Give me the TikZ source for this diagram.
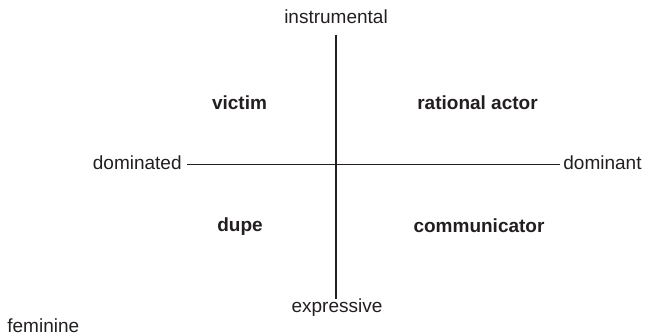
\documentclass[tikz,border=0pt]{standalone}
\usepackage{fontspec}
\setmainfont{Liberation Sans}
\usepackage{tikz}
\usetikzlibrary{positioning}
\definecolor{inkblack}{RGB}{35,31,32}

\begin{document}
\begin{tikzpicture}[x=0.5pt, y=-0.5pt,
        axislabel/.style={inner sep=0pt, font=\fontsize{9.5}{11}\selectfont, text=inkblack},
        quadlabel/.style={inner sep=0pt, font=\fontsize{9.5}{11}\selectfont\bfseries, text=inkblack, anchor=base},
        axisline/.style={draw=inkblack, line width=0.7pt}]
        % Frame
        \useasboundingbox (0,0) rectangle (646,335);

        % Axis ends
        \node[axislabel, anchor=base] (instrumental) at (336,24) {instrumental};
        \node[axislabel, anchor=base] (expressive) at (337,313) {expressive};
        \node[axislabel, anchor=base east] (dominated) at (182,170) {dominated};
        \node[axislabel, anchor=base west] (dominant) at (563,170) {dominant};

        % Axes
        \draw[axisline, shorten <=5pt] (instrumental.south) -- (expressive.north -| instrumental.south);
        \draw[axisline, shorten <=2.5pt, shorten >=1.5pt] (dominated.mid east) -- (dominant.mid west);

        % Quadrants
        \node[quadlabel] (victim) at (239.5,110) {victim};
        \node[quadlabel] (rational) at (477.5,110) {rational actor};
        \node[quadlabel] (dupe) at (240,232) {dupe};
        \node[quadlabel] (communicator) at (479,233) {communicator};

        % Corner
        \node[axislabel, anchor=base west] (feminine) at (7,333) {feminine};
    \end{tikzpicture}
\end{document}
